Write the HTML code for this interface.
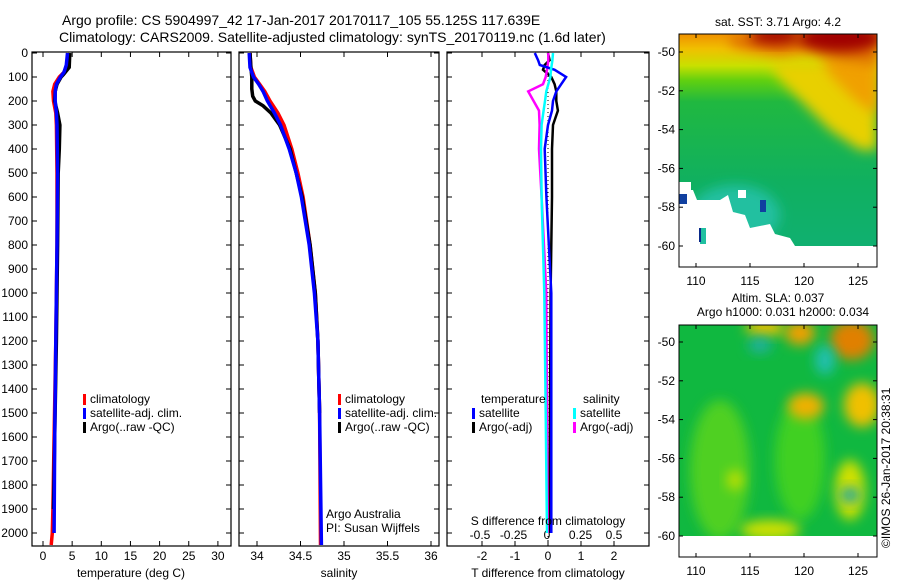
<!DOCTYPE html>
<html><head><meta charset="utf-8"><style>
body{margin:0;background:#fff;}
svg{display:block;font-family:"Liberation Sans",sans-serif;}
text{fill:#000;}
</style></head><body>
<svg id="fig" width="900" height="580" viewBox="0 0 900 580">
<defs>
<linearGradient id="sstg" x1="0" y1="0" x2="0" y2="1">
<stop offset="0" stop-color="#f09000"/><stop offset="0.07" stop-color="#f0c000"/><stop offset="0.15" stop-color="#c8e000"/><stop offset="0.22" stop-color="#60d010"/><stop offset="0.32" stop-color="#20b840"/><stop offset="0.7" stop-color="#10b060"/><stop offset="1" stop-color="#10b070"/>
</linearGradient>
<filter id="blur" x="-50%" y="-50%" width="200%" height="200%"><feGaussianBlur stdDeviation="6"/></filter>
<clipPath id="c1"><rect x="679" y="34" width="198" height="212"/></clipPath>
<clipPath id="c2"><rect x="679" y="325" width="198" height="211"/></clipPath>
</defs>
<text x="62" y="25" font-size="14">Argo profile: CS 5904997_42 17-Jan-2017 20170117_105 55.125S 117.639E</text>
<text x="59" y="42" font-size="14">Climatology: CARS2009. Satellite-adjusted climatology: synTS_20170119.nc (1.6d later)</text>
<g id="p1"></g>
<g id="p2"></g>
<g id="p3"></g>

<g>
<text x="778" y="26" font-size="12" text-anchor="middle">sat. SST: 3.71 Argo: 4.2</text>
<g clip-path="url(#c1)">
<rect x="679" y="34" width="198" height="212" fill="url(#sstg)"/>
<polygon points="770,62 877,62 877,150 860,150 830,130 800,100 780,80" fill="#e8d000" filter="url(#blur)"/>
<polygon points="820,55 877,55 877,115 855,100 830,75" fill="#f0a000" filter="url(#blur)"/>
<polygon points="730,34 877,34 877,65 840,60 810,50 780,55 750,50 730,45" fill="#e07000" filter="url(#blur)"/>
<ellipse cx="840" cy="38" rx="42" ry="14" fill="#a00000" filter="url(#blur)"/>
<ellipse cx="775" cy="36" rx="26" ry="8" fill="#a00000" filter="url(#blur)"/>
<ellipse cx="735" cy="215" rx="45" ry="30" fill="#20c0a0" filter="url(#blur)"/>
<path d="M679 190 L693 190 L697 200 L720 200 L728 195 L733 212 L745 215 L750 228 L770 224 L775 234 L790 238 L795 246 L679 246 Z" fill="#fff"/>
<rect x="679" y="182" width="12" height="12" fill="#fff"/>
<rect x="738" y="190" width="8" height="8" fill="#fff"/>
<rect x="700" y="228" width="6" height="16" fill="#20c0a0"/>
<rect x="699" y="228" width="2" height="14" fill="#0a2a8a"/>
<rect x="679" y="194" width="8" height="10" fill="#1040a0"/>
<rect x="760" y="200" width="6" height="12" fill="#1040a0"/>
</g>
<rect x="679" y="34" width="198" height="233" fill="none" stroke="#000" stroke-width="1"/>
<g id="m1ax"></g>
</g>

<g>
<text x="778" y="302" font-size="12" text-anchor="middle">Altim. SLA: 0.037</text>
<text x="783" y="316" font-size="12" text-anchor="middle">Argo h1000: 0.031 h2000: 0.034</text>
<g clip-path="url(#c2)">
<rect x="679" y="325" width="198" height="211" fill="#10b840"/>
<ellipse cx="720" cy="470" rx="30" ry="70" fill="#50d020" filter="url(#blur)"/>
<ellipse cx="800" cy="460" rx="25" ry="60" fill="#40d020" filter="url(#blur)"/>
<ellipse cx="852" cy="340" rx="22" ry="20" fill="#e08000" filter="url(#blur)"/>
<ellipse cx="800" cy="333" rx="15" ry="12" fill="#f0a000" filter="url(#blur)"/>
<ellipse cx="765" cy="328" rx="20" ry="8" fill="#f0c000" filter="url(#blur)"/>
<ellipse cx="806" cy="406" rx="18" ry="13" fill="#f0b000" filter="url(#blur)"/>
<ellipse cx="862" cy="405" rx="18" ry="22" fill="#f0c000" filter="url(#blur)"/>
<ellipse cx="850" cy="490" rx="15" ry="30" fill="#d0e000" filter="url(#blur)"/>
<ellipse cx="825" cy="360" rx="10" ry="15" fill="#20c0b0" filter="url(#blur)"/>
<ellipse cx="760" cy="345" rx="12" ry="8" fill="#20b0a0" filter="url(#blur)"/>
<ellipse cx="850" cy="495" rx="10" ry="8" fill="#20a8a0" filter="url(#blur)"/>
<ellipse cx="770" cy="530" rx="30" ry="10" fill="#d0e000" filter="url(#blur)"/>
<ellipse cx="735" cy="480" rx="8" ry="10" fill="#c0e000" filter="url(#blur)"/>
</g>
<rect x="679" y="325" width="198" height="232" fill="none" stroke="#000" stroke-width="1"/>
<g id="m2ax"></g>
<text x="0" y="0" font-size="12" transform="translate(890,548) rotate(-90)">©IMOS 26-Jan-2017 20:38:31</text>
</g>
</svg>
<script>
// ---- data ----
const depthTClim = [0,50,80,100,130,160,200,250,300,500,800,1200,1600,1900,2000,2050];
const tempClim   = [4.3,4.1,3.6,2.8,2.0,1.7,1.8,2.2,2.3,2.4,2.4,2.2,1.9,1.7,1.6,1.4];
const depthTSat  = [0,50,80,100,130,160,200,250,300,500,800,1200,1600,2000];
const tempSat    = [4.2,4.0,3.6,3.0,2.3,2.1,2.1,2.3,2.4,2.5,2.4,2.2,2.0,1.9];
const depthTArgo = [0,60,90,100,130,160,200,250,300,400,500,800,1200,1600,1900];
const tempArgo   = [4.6,4.5,3.5,3.1,2.4,2.1,2.0,2.5,2.9,2.8,2.6,2.5,2.3,2.0,1.8];
const depthS     = [0,60,100,130,160,200,250,300,400,500,600,800,1000,1200,1500,2050];
const salClim    = [33.92,33.93,33.97,34.03,34.09,34.15,34.24,34.31,34.40,34.47,34.53,34.61,34.67,34.70,34.72,34.73];
const salSat     = [33.91,33.92,33.96,34.02,34.07,34.12,34.20,34.27,34.37,34.45,34.51,34.60,34.66,34.70,34.72,34.74];
const depthSArgo = [0,60,100,150,180,200,220,250,300,400,500,600,800,1000,1200,1500];
const salArgo    = [33.92,33.93,33.94,33.94,33.95,33.98,34.07,34.16,34.26,34.38,34.45,34.52,34.61,34.67,34.70,34.72];
const depthD     = [0,30,50,70,100,130,160,200,240,300,400,600,1000,1500,2000];
const dTSat      = [-0.4,-0.3,-0.25,0.2,0.55,0.4,0.25,0.15,0.12,0.0,-0.1,-0.05,0.1,0.1,0.1];
const dTArgo     = [0.0,0.05,-0.1,-0.15,0.1,0.2,0.25,0.25,0.3,0.15,0.12,0.12,0.08,0.06,0.05];
const dSSat      = [0.045,0.04,0.035,0.03,0.025,0.01,-0.005,-0.015,-0.025,-0.04,-0.045,-0.04,-0.02,-0.01,0.0];
const dSArgo     = [0.01,0.01,0.005,0.0,-0.01,-0.03,-0.14,-0.1,-0.06,-0.055,-0.06,-0.04,-0.005,0.0,0.005];
const depthTicks = [0,100,200,300,400,500,600,700,800,900,1000,1100,1200,1300,1400,1500,1600,1700,1800,1900,2000];
const tempTicks  = [0,5,10,15,20,25,30];
const salTicks   = [34,34.5,35,35.5,36];
const salTickLabels = ["34","34.5","35","35.5","36"];
const dTTicks    = [-2,-1,0,1,2];
const dSTicks    = [-0.5,-0.25,0,0.25,0.5];
const dSTickLabels = ["-0.5","-0.25","0","0.25","0.5"];
const latTicks   = [-50,-52,-54,-56,-58,-60];
const lonTicks   = [110,115,120,125];

const NS='http://www.w3.org/2000/svg';
function mk(parent,tag,attrs,txt){const e=document.createElementNS(NS,tag);for(const k in attrs)e.setAttribute(k,attrs[k]);if(txt!==undefined)e.textContent=txt;parent.appendChild(e);return e;}
const TOP=52,BOT=546;
const yD=d=>53+d*0.24;
function panel(g,x0,x1,withLabels){
  const r=mk(g,'rect',{x:x0,y:TOP,width:x1-x0,height:BOT-TOP,fill:'none',stroke:'#000','stroke-width':1.2});
  
  
  depthTicks.forEach(d=>{const y=yD(d);
    mk(g,'line',{x1:x0,x2:x0+5,y1:y,y2:y,stroke:'#000'});
    mk(g,'line',{x1:x1,x2:x1-5,y1:y,y2:y,stroke:'#000'});
    if(withLabels){const t=mk(g,'text',{x:x0-4,y:y+4,'font-size':12,'text-anchor':'end'},String(d));
      
      }
  });
}
function xticks(g,sx,ticks,labels,ylab){
  ticks.forEach((v,i)=>{const x=sx(v);
    mk(g,'line',{x1:x,x2:x,y1:BOT,y2:BOT-5,stroke:'#000'});
    mk(g,'line',{x1:x,x2:x,y1:TOP,y2:TOP+5,stroke:'#000'});
    const t=mk(g,'text',{x:x,y:ylab,'font-size':12,'text-anchor':'middle'},labels[i]);
    
    
  });
}
function line(g,sx,xs,ds,col,w,name){
  const pts=xs.map((v,i)=>sx(v).toFixed(1)+','+yD(ds[i]).toFixed(1)).join(' ');
  const p=mk(g,'polyline',{points:pts,fill:'none',stroke:col,'stroke-width':w});
  
  
}
function legend(g,x,y,items){
  items.forEach((it,i)=>{
    mk(g,'rect',{x:x,y:y+i*14-9,width:3,height:11,fill:it[1]});
    const t=mk(g,'text',{x:x+7,y:y+i*14,'font-size':12},it[0]);
    
    
  });
}
// panel 1
const p1=document.getElementById('p1');
const sT=v=>43+v*5.83;
panel(p1,32,231,true);
xticks(p1,sT,tempTicks,tempTicks.map(String),560);
line(p1,sT,tempClim,depthTClim,'#f00',3.5,'temp-climatology-line');
line(p1,sT,tempArgo,depthTArgo,'#000',3.5,'temp-argo-line');
line(p1,sT,tempSat,depthTSat,'#00f',3.5,'temp-satellite-line');
legend(p1,83,403,[['climatology','#f00'],['satellite-adj. clim.','#00f'],['Argo(..raw -QC)','#000']]);
mk(p1,'text',{x:131,y:577,'font-size':12,'text-anchor':'middle'},'temperature (deg C)');
// panel 2
const p2=document.getElementById('p2');
const sS=v=>257+(v-34)*87;
panel(p2,239,439,false);
xticks(p2,sS,salTicks,salTickLabels,560);
line(p2,sS,salClim,depthS,'#f00',3.5,'sal-climatology-line');
line(p2,sS,salArgo,depthSArgo,'#000',3.5,'sal-argo-line');
line(p2,sS,salSat,depthS,'#00f',3.5,'sal-satellite-line');
legend(p2,338,403,[['climatology','#f00'],['satellite-adj. clim.','#00f'],['Argo(..raw -QC)','#000']]);
mk(p2,'text',{x:326,y:518,'font-size':12},'Argo Australia');
mk(p2,'text',{x:326,y:532,'font-size':12},'PI: Susan Wijffels');
mk(p2,'text',{x:339,y:577,'font-size':12,'text-anchor':'middle'},'salinity');
// panel 3
const p3=document.getElementById('p3');
const sDT=v=>548+v*33, sDS=v=>547+v*134;
panel(p3,447,649,false);
xticks(p3,sDT,dTTicks,dTTicks.map(String),560);
dSTicks.forEach((v,i)=>{const t=mk(p3,'text',{x:sDS(v),y:539,'font-size':12,'text-anchor':'middle'},dSTickLabels[i]);
  
  });
mk(p3,'line',{x1:548,x2:548,y1:TOP,y2:BOT,stroke:'#000','stroke-dasharray':'1,3'});
line(p3,sDT,dTArgo,depthD,'#000',2.5,'tdiff-argo-line');
line(p3,sDS,dSArgo,depthD,'#f0f',2.5,'sdiff-argo-line');
line(p3,sDT,dTSat,depthD,'#00f',2.5,'tdiff-satellite-line');
line(p3,sDS,dSSat,depthD,'#0ff',2.5,'sdiff-satellite-line');
mk(p3,'text',{x:481,y:403,'font-size':12},'temperature');
mk(p3,'text',{x:583,y:403,'font-size':12},'salinity');
legend(p3,472,417,[['satellite','#00f'],['Argo(-adj)','#000']]);
legend(p3,573,417,[['satellite','#0ff'],['Argo(-adj)','#f0f']]);
mk(p3,'text',{x:548,y:525,'font-size':12,'text-anchor':'middle'},'S difference from climatology');
mk(p3,'text',{x:548,y:577,'font-size':12,'text-anchor':'middle'},'T difference from climatology');
// map axes
function mapAxes(id,yTop,yBot,lat50,lat60){
  const g=document.getElementById(id);
  const sy=v=>lat50+(v+50)*(lat60-lat50)/-10;
  const sx=v=>696+(v-110)*10.8;
  latTicks.forEach(v=>{const y=sy(v);
    mk(g,'line',{x1:679,x2:683,y1:y,y2:y,stroke:'#000'});
    mk(g,'line',{x1:877,x2:873,y1:y,y2:y,stroke:'#000'});
    const t=mk(g,'text',{x:675,y:y+4,'font-size':12,'text-anchor':'end'},String(v));
    
    });
  lonTicks.forEach(v=>{const x=sx(v);
    mk(g,'line',{x1:x,x2:x,y1:yBot,y2:yBot-4,stroke:'#000'});
    mk(g,'line',{x1:x,x2:x,y1:yTop,y2:yTop+4,stroke:'#000'});
    const t=mk(g,'text',{x:x,y:yBot+18,'font-size':12,'text-anchor':'middle'},String(v));
    
    });
}
mapAxes('m1ax',34,267,52,246);
mapAxes('m2ax',325,557,342,536);
</script>
</body></html>
